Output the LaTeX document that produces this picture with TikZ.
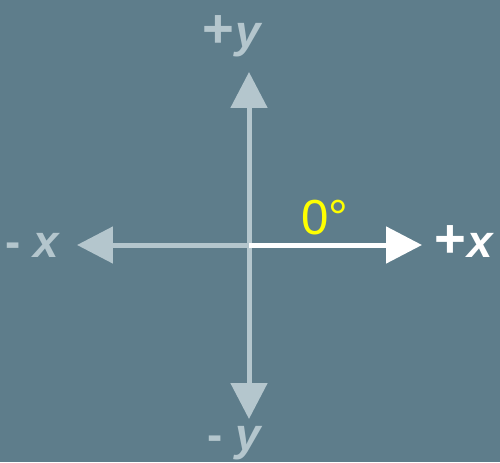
\documentclass[tikz,border=0pt]{standalone}
\usepackage{fontspec}
\setmainfont{Liberation Sans}
\usetikzlibrary{arrows.meta}
\newcommand{\axvar}[1]{\textit{#1}}
\newcommand{\bigplus}{{\fontsize{31}{30}\selectfont +}\kern1pt}
\begin{document}
\begin{tikzpicture}[line cap=butt, line join=round,
    axis/.style={line width=0.1cm, -{Triangle[length=0.72cm,width=0.72cm]}},
    lbl/.style={inner sep=0pt, font=\bfseries\fontsize{26}{30}\selectfont}]
  \definecolor{slatebg}{RGB}{94,125,139}
  \definecolor{axisgray}{RGB}{180,198,205}
  \definecolor{angleyellow}{RGB}{255,255,0}
  \useasboundingbox[fill=slatebg] (-4.98,-4.34) rectangle (5.02,4.9);
  \coordinate (o) at (0,0);
  \coordinate (xpos) at (3.46,0);
  \coordinate (xneg) at (-3.44,0);
  \coordinate (ypos) at (0,3.46);
  \coordinate (yneg) at (0,-3.48);
  \draw[axis, axisgray] (o)--(xneg);
  \draw[axis, axisgray] (o)--(ypos);
  \draw[axis, axisgray] (o)--(yneg);
  \draw[axis, white] (o)--(xpos);
  \node[lbl, white, anchor=base west] (xposlbl) at (3.7,-0.24) {\bigplus\axvar{x}};
  \node[lbl, axisgray, anchor=base east] (xneglbl) at (-3.76,-0.24) {-\;\axvar{x}};
  \node[lbl, axisgray, anchor=base west] (yposlbl) at (-0.94,3.94) {\bigplus\axvar{y}};
  \node[lbl, axisgray, anchor=base west] (yneglbl) at (-0.84,-4.1) {-\;\axvar{y}};
  \node[inner sep=0pt, anchor=base west, angleyellow,
    font=\fontsize{28}{30}\selectfont] (zero) at (1.04,0.22) {0°};
\end{tikzpicture}
\end{document}
